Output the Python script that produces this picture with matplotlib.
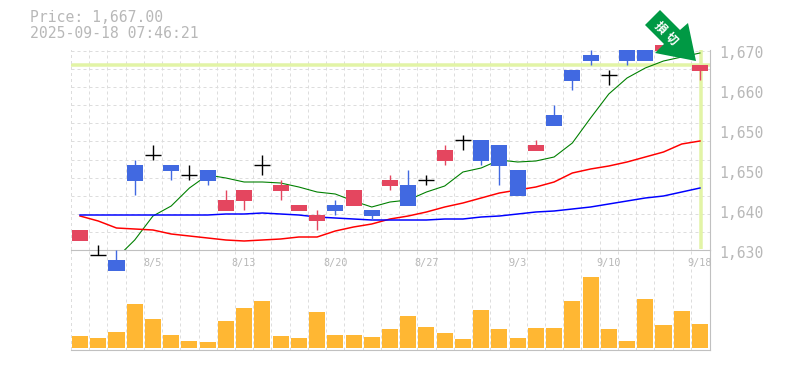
import numpy as np
import matplotlib
matplotlib.use('Agg')
from matplotlib import pyplot as plt
from matplotlib.patches import Polygon

W, H = 785, 370

dates = ['7/30', '7/31', '8/1', '8/4', '8/5', '8/6', '8/7', '8/8', '8/12', '8/13', '8/14', '8/15',
         '8/18', '8/19', '8/20', '8/21', '8/22', '8/25', '8/26', '8/27', '8/28', '8/29', '9/1', '9/2',
         '9/3', '9/4', '9/5', '9/8', '9/9', '9/10', '9/11', '9/12', '9/16', '9/17', '9/18']
shown_dates = ['8/5', '8/13', '8/20', '8/27', '9/3', '9/10', '9/18']

opens = [1632, 1629, 1628, 1647, 1649, 1647, 1645, 1646, 1638, 1640, 1647, 1642,
         1638, 1636, 1639, 1639, 1638, 1643, 1643, 1644, 1648, 1652, 1652, 1651,
         1646, 1650, 1657, 1666, 1669, 1665, 1670, 1670, 1670, 1672, 1666]
highs = [1634, 1631, 1630, 1648, 1651, 1647, 1647, 1646, 1642, 1642, 1649, 1644,
         1639, 1638, 1640, 1642, 1638, 1645, 1646, 1645, 1651, 1653, 1652, 1651,
         1646, 1652, 1659, 1666, 1670, 1666, 1670, 1670, 1671, 1672, 1667]
lows = [1632, 1629, 1626, 1641, 1648, 1644, 1644, 1643, 1638, 1638, 1645, 1640,
        1638, 1634, 1637, 1639, 1636, 1642, 1639, 1643, 1647, 1650, 1647, 1643,
        1641, 1650, 1655, 1662, 1667, 1663, 1667, 1668, 1670, 1670, 1664]
closes = [1634, 1629, 1626, 1644, 1649, 1646, 1645, 1644, 1640, 1642, 1647, 1643,
          1639, 1637, 1638, 1642, 1637, 1644, 1639, 1644, 1650, 1652, 1648, 1647,
          1641, 1651, 1655, 1664, 1668, 1665, 1668, 1668, 1671, 1670, 1667]

# short average only starts on the third day
ma_short = [1628.4, 1632, 1636.8, 1638.8, 1642.4, 1645, 1644.4, 1643.6, 1643.6, 1643.4, 1642.6,
            1641.6, 1641.2, 1639.8, 1638.6, 1639.6, 1640, 1641.6, 1642.8, 1645.6, 1646.4, 1648,
            1647.6, 1647.8, 1648.6, 1651.4, 1656.4, 1661.2, 1664.4, 1666.4, 1667.8, 1668.6, 1669.4]
ma_mid = [1636.8, 1635.8, 1634.4, 1634.2, 1634, 1633.2, 1632.8, 1632.4, 1632, 1631.8, 1632, 1632.2,
          1632.6, 1632.6, 1633.8, 1634.6, 1635.2, 1636.2, 1636.8, 1637.6, 1638.6, 1639.4, 1640.4,
          1641.4, 1642, 1642.6, 1643.6, 1645.4, 1646.2, 1646.8, 1647.6, 1648.6, 1649.6, 1651.2, 1651.8]
ma_long = [1637, 1637, 1637, 1637, 1637, 1637, 1637, 1637, 1637.2, 1637.2, 1637.4, 1637.2,
           1637, 1636.6, 1636.4, 1636.2, 1636, 1636, 1636, 1636, 1636.2, 1636.2, 1636.6, 1636.8,
           1637.2, 1637.6, 1637.8, 1638.2, 1638.6, 1639.2, 1639.8, 1640.4, 1640.8, 1641.6, 1642.4]

volume = [12, 10, 16, 44, 29, 13, 7, 6, 27, 40, 47, 12, 10, 36, 13, 13, 11, 19,
          32, 21, 15, 9, 38, 19, 10, 20, 20, 47, 71, 19, 7, 49, 23, 37, 24]

price_now = 1667
scale_values = [1670, 1662, 1654, 1646, 1638, 1630]
scale_labels = ['1,670', '1,660', '1,650', '1,650', '1,640', '1,630']

UP = '#e4465f'
DOWN = '#4169e1'
GRID = '#dddddd'
FRAME = '#c0c0c0'
TEXT = '#b8b8b8'
PRICE = '#e2f4a6'
VOL = '#ffb733'
ARROW = '#009944'
PX = 0.72  # one pixel in points at dpi 100
MONO = 'DejaVu Sans Mono'

x = np.arange(len(dates))
fig = plt.figure(figsize=(W / 100, H / 100), dpi=100)
ax = fig.add_axes([70.9 / W, (H - 250) / H, 639.1 / W, 200 / H])
ax_vol = fig.add_axes([70.9 / W, (H - 350) / H, 639.1 / W, 100 / H])
ax.set_zorder(2)
ax_vol.set_zorder(1)

for a in (ax, ax_vol):
    a.patch.set_visible(False)
    a.set_xlim(-0.5, 34.55)
    a.set_xticks(x[:-1] + 0.5, minor=True)
    a.tick_params(which='both', length=0)
    a.grid(which='minor', axis='x', color=GRID, lw=PX, ls=(0, (3, 3)))
    a.set_axisbelow(True)
    for s in a.spines.values():
        s.set_visible(False)
    a.spines['bottom'].set_visible(True)
    a.spines['bottom'].set_color(FRAME)
    a.spines['right'].set_visible(True)
    a.spines['right'].set_color(FRAME)
    a.axvline(-0.5, color=GRID, lw=PX * 2, ls=(0, (1.5, 1.5)))

# price panel
ax.set_ylim(1630, 1670)
ax.set_yticks(1630 + 3.62 * np.arange(12), minor=True)
ax.grid(which='minor', axis='y', color=GRID, lw=PX, ls=(0, (3, 3)))
ax.set_yticks([])
ax.set_xticks([dates.index(d) for d in shown_dates])
ax.set_xticklabels(shown_dates, color=TEXT, fontsize=7.3, family=MONO)
ax.tick_params(axis='x', pad=6)

ax.hlines(price_now, -0.5, 34.55, color=PRICE, lw=PX * 3.5, zorder=1)
ax.vlines(x[-1] + 0.05, 1630.3, 1670, color=PRICE, lw=PX * 3.5, zorder=1)

ax.plot(x[2:], ma_short, color='green', lw=PX * 1.1, zorder=2)
ax.plot(x, ma_mid, color='red', lw=PX * 1.5, zorder=2)
ax.plot(x, ma_long, color='blue', lw=PX * 1.5, zorder=2)

colors = []
for o, c in zip(opens, closes):
    if o == c:
        colors.append('black')
    elif c > o:
        colors.append(UP)
    else:
        colors.append(DOWN)

wicks = ax.vlines(x, lows, highs, colors=colors, lw=PX * 1.4, zorder=3, clip_on=False)
for i in x:
    if opens[i] == closes[i]:
        ax.hlines(opens[i], i - 0.44, i + 0.44, color='black', lw=PX * 1.4, zorder=3, clip_on=False)
    else:
        low_end = min(opens[i], closes[i])
        body = abs(opens[i] - closes[i])
        ax.bar(i, body + 0.2, bottom=low_end - 0.2, width=0.88, color=colors[i], zorder=4, clip_on=False)

for value, label in zip(scale_values, scale_labels):
    ax.annotate(label, (1, value), xycoords=('axes fraction', 'data'), xytext=(9, -3),
                textcoords='offset pixels', color=TEXT, fontsize=10.6, family=MONO,
                va='center', ha='left', annotation_clip=False)

# volume panel
ax_vol.set_ylim(-2, 98)
ax_vol.set_xticks([])
ax_vol.set_yticks([])
ax_vol.bar(x, volume, width=0.88, color=VOL, zorder=3)

# header
fig.text(30 / W, 1 - 18 / H, 'Price: 1,667.00', color=TEXT, fontsize=10.6, family=MONO, va='center')
fig.text(30 / W, 1 - 33 / H, '2025-09-18 07:46:21', color=TEXT, fontsize=10.6, family=MONO, va='center')

# signal arrow, outline given in picture pixels
arrow_px = [(645, 25), (660, 10), (680, 30), (688, 23), (696, 61), (655, 53), (664, 44)]
arrow_fig = [(px / W, 1 - py / H) for px, py in arrow_px]
fig.add_artist(Polygon(arrow_fig, closed=True, transform=fig.transFigure, facecolor=ARROW,
                       edgecolor='none', zorder=10))
for char, (px, py) in zip('損切', [(660, 28), (671, 39)]):
    fig.text(px / W, 1 - py / H, char, color='white', fontsize=8.5, rotation=-45, ha='center', va='center',
             family=['Noto Sans CJK JP', 'DejaVu Sans'], fontweight='bold', zorder=11)

fig.savefig('out.png', dpi=100)
